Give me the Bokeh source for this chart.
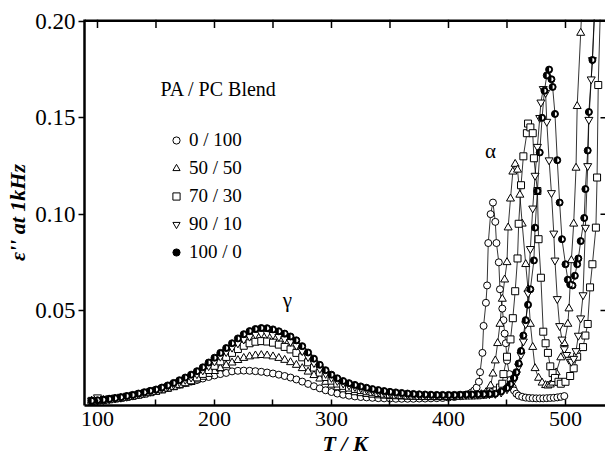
import math
from bokeh.plotting import figure
from bokeh.models import (Range1d, FixedTicker, Label, Legend,
                          LegendItem, ColumnDataSource, PrintfTickFormatter)
from bokeh.embed import file_html
from bokeh.resources import INLINE

# ---------------- data ----------------
X_TICKS = [100, 200, 300, 400, 500]
X_MINOR = [150, 250, 350, 450]
Y_TICKS = [0.05, 0.10, 0.15, 0.20]
X_LO, X_HI = 88.9, 534.2
Y_LO, Y_HI = 0.0007, 0.201

# shared temperature grid below the alpha region (K)
T_LOW = [95, 100, 105, 110, 115, 120, 125, 130, 135, 140, 145, 150, 155, 160,
         165, 170, 175, 180, 185, 190, 195, 200, 205, 210, 215, 220, 225, 230,
         235, 240, 245, 250, 255, 260, 265, 270, 275, 280, 285, 290, 295, 300,
         305, 310, 315, 320, 325, 330, 335, 340, 345, 350, 355, 360, 365, 370,
         375, 380, 385, 390, 395, 400, 405, 410, 415]

# 0 / 100
E_LOW_0 = [.0030, .0033, .0036, .0039, .0043, .0047, .0052, .0057, .0063, .0069,
           .0076, .0083, .0091, .0099, .0107, .0115, .0123, .0131, .0139, .0147,
           .0155, .0163, .0170, .0176, .0184, .0187, .0188, .0187, .0185, .0182,
           .0178, .0173, .0167, .0160, .0152, .0142, .0131, .0119, .0107, .0096,
           .0086, .0077, .0069, .0063, .0058, .0054, .0051, .0049, .0047, .0045,
           .0044, .0043, .0042, .0042, .0042, .0042, .0043, .0043, .0044, .0045,
           .0046, .0048, .0051, .0055, .0062]
T_A_0 = [418, 420, 422, 424, 426, 427, 429, 430, 432, 433, 434, 436, 438, 440,
         441, 443, 444, 446, 447, 448, 449, 450, 452, 453, 455, 456, 458, 460,
         463, 466, 469, 472, 475, 478, 481, 484, 487, 490, 493, 496, 499]
E_A_0 = [.0068, .0075, .0085, .0100, .0130, .0180, .0280, .0420, .0540, .0630,
         .0850, .1000, .1060, .0960, .0850, .0750, .0610, .0510, .0450, .0380,
         .0330, .0240, .0170, .0140, .0100, .0085, .0068, .0058, .0052, .0048,
         .0046, .0045, .0044, .0044, .0044, .0045, .0046, .0047, .0049, .0052,
         .0056]

# 50 / 50
E_LOW_50 = [.0031, .0033, .0035, .0038, .0041, .0045, .0049, .0054, .0059, .0065,
            .0071, .0078, .0085, .0093, .0101, .0110, .0119, .0128, .0141, .0155,
            .0170, .0185, .0200, .0215, .0229, .0242, .0253, .0261, .0266, .0268,
            .0266, .0261, .0253, .0243, .0231, .0217, .0200, .0182, .0164, .0146,
            .0129, .0114, .0101, .0090, .0081, .0075, .0070, .0066, .0062, .0059,
            .0057, .0055, .0054, .0053, .0052, .0051, .0050, .0050, .0050, .0050,
            .0051, .0051, .0052, .0053, .0055]
T_A_50 = [420, 424, 428, 432, 435, 436, 438, 440, 442, 444, 446, 448, 450, 451,
          453, 455, 457, 459, 461, 463, 466, 468, 470, 472, 474, 477, 480, 483,
          485, 487, 489, 492, 496, 499, 502, 503, 505, 507, 509, 510, 513, 515]
E_A_50 = [.0057, .0060, .0065, .0075, .0090, .0110, .0172, .0240, .0330, .0430,
          .0560, .0660, .0750, .0930, .1080, .1220, .1260, .1230, .1100, .0950,
          .0740, .0610, .0430, .0310, .0200, .0150, .0125, .0112, .0110, .0115,
          .0125, .0178, .0256, .0330, .0430, .0510, .0760, .0950, .1240, .1560,
          .1940, .2200]

# 70 / 30
E_LOW_70 = [.0031, .0033, .0036, .0039, .0043, .0047, .0052, .0057, .0063, .0069,
            .0076, .0083, .0091, .0100, .0109, .0119, .0128, .0138, .0153, .0171,
            .0191, .0213, .0236, .0259, .0280, .0300, .0317, .0330, .0338, .0341,
            .0339, .0333, .0323, .0311, .0298, .0280, .0257, .0231, .0204, .0178,
            .0155, .0136, .0121, .0109, .0100, .0093, .0087, .0081, .0076, .0072,
            .0068, .0065, .0063, .0061, .0059, .0058, .0057, .0056, .0056, .0056,
            .0056, .0056, .0057, .0058, .0059]
T_A_70 = [420, 425, 430, 435, 438, 441, 444, 446, 447, 450, 453, 455, 457, 459,
          460, 462, 464, 467, 468, 470, 472, 473, 476, 477, 479, 481, 483, 485,
          487, 489, 491, 494, 496, 500, 504, 507, 510, 515, 517, 519, 521, 523,
          526, 527, 528, 530]
E_A_70 = [.0059, .0060, .0063, .0068, .0075, .0085, .0100, .0120, .0170, .0260,
          .0350, .0460, .0600, .0770, .0950, .1150, .1300, .1420, .1470, .1450,
          .1420, .1290, .1120, .0870, .0670, .0390, .0330, .0280, .0210, .0175,
          .0150, .0130, .0120, .0130, .0160, .0200, .0260, .0310, .0370, .0430,
          .0620, .0740, .0930, .1190, .1670, .2100]

# 90 / 10
E_LOW_90 = [.0032, .0050, .0036, .0040, .0044, .0048, .0053, .0059, .0065, .0072,
            .0079, .0087, .0096, .0106, .0117, .0129, .0141, .0153, .0170, .0190,
            .0212, .0236, .0261, .0285, .0308, .0330, .0350, .0365, .0376, .0381,
            .0380, .0374, .0364, .0352, .0338, .0318, .0290, .0259, .0228, .0198,
            .0172, .0151, .0135, .0122, .0112, .0104, .0097, .0090, .0084, .0079,
            .0075, .0071, .0068, .0066, .0064, .0062, .0061, .0060, .0059, .0059,
            .0059, .0059, .0060, .0061, .0062]
T_A_90 = [420, 425, 430, 435, 440, 445, 450, 453, 456, 458, 460, 462, 464, 466,
          468, 470, 472, 474, 476, 478, 479, 481, 483, 484, 486, 488, 490, 491,
          493, 495, 497, 499, 501, 503, 505, 507, 509, 511, 513, 515, 517, 519,
          520, 522, 523, 525]
E_A_90 = [.0063, .0064, .0065, .0066, .0068, .0075, .0092, .0110, .0140, .0170,
          .0210, .0270, .0340, .0430, .0590, .0820, .1030, .1200, .1350, .1500,
          .1580, .1650, .1630, .1480, .1280, .1110, .0900, .0760, .0560, .0420,
          .0350, .0300, .0270, .0245, .0235, .0250, .0290, .0370, .0460, .0580,
          .0930, .1250, .1490, .1700, .1800, .2100]

# 100 / 0
E_LOW_100 = [.0032, .0034, .0037, .0041, .0045, .0050, .0056, .0062, .0069, .0076,
             .0083, .0090, .0100, .0111, .0124, .0138, .0152, .0167, .0185, .0205,
             .0230, .0255, .0280, .0305, .0330, .0355, .0377, .0393, .0404, .0409,
             .0408, .0402, .0392, .0380, .0365, .0345, .0315, .0282, .0250, .0218,
             .0190, .0167, .0148, .0134, .0123, .0114, .0106, .0099, .0092, .0087,
             .0082, .0078, .0075, .0072, .0069, .0067, .0065, .0064, .0063, .0062,
             .0062, .0062, .0062, .0063, .0064]
T_A_100 = [420, 425, 430, 435, 440, 445, 450, 453, 456, 458, 460, 462, 464, 466,
           468, 470, 473, 474, 476, 478, 480, 482, 484, 486, 488, 489, 491, 493,
           495, 497, 500, 502, 504, 506, 508, 510, 511, 513, 516, 517, 519, 520,
           523, 525]
E_A_100 = [.0064, .0065, .0066, .0067, .0068, .0080, .0098, .0118, .0150, .0180,
           .0225, .0290, .0370, .0450, .0530, .0610, .0760, .0930, .1120, .1320,
           .1500, .1640, .1720, .1750, .1700, .1660, .1520, .1280, .1060, .0870,
           .0740, .0660, .0635, .0630, .0680, .0740, .0770, .0860, .0980, .1130,
           .1330, .1530, .1800, .2050]

LABELS = ["0 / 100", "50 / 50", "70 / 30", "90 / 10", "100 / 0"]

FONT = "Liberation Serif"


def series(e_low, t_a, e_a):
    t = T_LOW[:len(e_low)] + t_a[:len(e_a)]
    e = e_low[:len(T_LOW)] + e_a[:len(t_a)]
    n = min(len(t), len(e))
    return ColumnDataSource(dict(t=t[:n], e=e[:n]))


p = figure(width=605, height=465, output_backend="svg", toolbar_location=None,
           x_range=Range1d(X_LO, X_HI), y_range=Range1d(Y_LO, Y_HI),
           min_border_left=84, min_border_right=0, min_border_top=19,
           min_border_bottom=60)
p.outline_line_color = None
p.xgrid.grid_line_color = None
p.ygrid.grid_line_color = None
p.background_fill_color = "white"
p.border_fill_color = "white"

# bottom axis
xa = p.xaxis[0]
xa.ticker = FixedTicker(ticks=X_TICKS, minor_ticks=X_MINOR)
xa.major_tick_in = 6
xa.major_tick_out = 0
xa.minor_tick_in = 6
xa.minor_tick_out = 0
xa.axis_line_width = 2.5
xa.axis_line_color = "black"
xa.major_tick_line_width = 1.5
xa.minor_tick_line_width = 1.5
xa.major_tick_line_color = "black"
xa.minor_tick_line_color = "black"
xa.major_label_text_font = FONT
xa.major_label_text_font_size = "22px"
xa.major_label_text_color = "black"
xa.major_label_standoff = 6
xa.axis_label = "T / K"
xa.axis_label_text_font = FONT
xa.axis_label_text_font_style = "bold italic"
xa.axis_label_text_font_size = "22px"
xa.axis_label_text_color = "black"
xa.axis_label_standoff = 2

# left axis
ya = p.yaxis[0]
ya.ticker = FixedTicker(ticks=Y_TICKS, minor_ticks=[])
ya.formatter = PrintfTickFormatter(format="%.2f")
ya.major_tick_out = 6
ya.major_tick_in = 0
ya.minor_tick_in = 0
ya.minor_tick_out = 0
ya.axis_line_width = 2.5
ya.axis_line_color = "black"
ya.major_tick_line_width = 1.5
ya.major_tick_line_color = "black"
ya.major_label_text_font = FONT
ya.major_label_text_font_size = "23px"
ya.major_label_text_color = "black"
ya.major_label_standoff = 3
ya.axis_label = "ε'' at 1kHz"
ya.axis_label_text_font = FONT
ya.axis_label_text_font_style = "bold italic"
ya.axis_label_text_font_size = "22px"
ya.axis_label_text_color = "black"
ya.axis_label_standoff = 2

# top frame line with inward ticks, and inward ticks on the right edge
top_ticks = X_TICKS + X_MINOR
p.segment(x0=[X_LO], y0=[Y_HI], x1=[X_HI], y1=[Y_HI], line_color="black",
          line_width=5)
p.segment(x0=top_ticks, y0=[Y_HI] * len(top_ticks), x1=top_ticks,
          y1=[Y_HI - 8.5 / 1927] * len(top_ticks), line_color="black", line_width=1.5)
right_ticks = Y_TICKS[:3]
p.segment(x0=[X_HI] * len(right_ticks), y0=right_ticks,
          x1=[X_HI - 5 / 1.17] * len(right_ticks), y1=right_ticks,
          line_color="black", line_width=1.5)

src = [series(E_LOW_0, T_A_0, E_A_0),
       series(E_LOW_50, T_A_50, E_A_50),
       series(E_LOW_70, T_A_70, E_A_70),
       series(E_LOW_90, T_A_90, E_A_90),
       series(E_LOW_100, T_A_100, E_A_100)]

for s in src:
    p.line("t", "e", source=s, line_color="black", line_width=0.8)

r0 = p.scatter("t", "e", source=src[0], marker="circle", size=7,
               fill_color="white", line_color="black", line_width=1)
r1 = p.scatter("t", "e", source=src[1], marker="triangle", size=8,
               fill_color="white", line_color="black", line_width=1)
r2 = p.scatter("t", "e", source=src[2], marker="square", size=7,
               fill_color="white", line_color="black", line_width=1)
r3 = p.scatter("t", "e", source=src[3], marker="inverted_triangle", size=8,
               fill_color="white", line_color="black", line_width=1)
r4 = p.scatter("t", "e", source=src[4], marker="circle", size=7,
               fill_color="black", line_color="black", line_width=1)
p.wedge("t", "e", source=src[4], radius=2.0, radius_units="screen",
        start_angle=-math.pi / 2, end_angle=math.pi / 2,
        fill_color="white", line_color=None)

legend = Legend(items=[LegendItem(label=LABELS[0], renderers=[r0]),
                       LegendItem(label=LABELS[1], renderers=[r1]),
                       LegendItem(label=LABELS[2], renderers=[r2]),
                       LegendItem(label=LABELS[3], renderers=[r3]),
                       LegendItem(label=LABELS[4], renderers=[r4])],
                location=(83, 142), glyph_width=18, glyph_height=18,
                label_text_font=FONT, label_text_font_size="19px",
                label_text_color="black",
                label_standoff=4, spacing=6, padding=0, margin=0,
                border_line_color=None, background_fill_alpha=0)
p.add_layout(legend)

p.add_layout(Label(x=153.8, y=0.1647, text="PA / PC Blend", text_font=FONT,
                   text_font_size="20px", text_align="left", text_baseline="middle",
                   text_color="black"))
p.add_layout(Label(x=436, y=0.133, text="α", text_font=FONT,
                   text_font_size="21px", text_align="center", text_baseline="middle",
                   text_color="black"))
p.add_layout(Label(x=262.4, y=0.0552, text="γ", text_font=FONT,
                   text_font_size="21px", text_align="center", text_baseline="middle",
                   text_color="black"))

open("out.html", "w").write(file_html(p, INLINE))
